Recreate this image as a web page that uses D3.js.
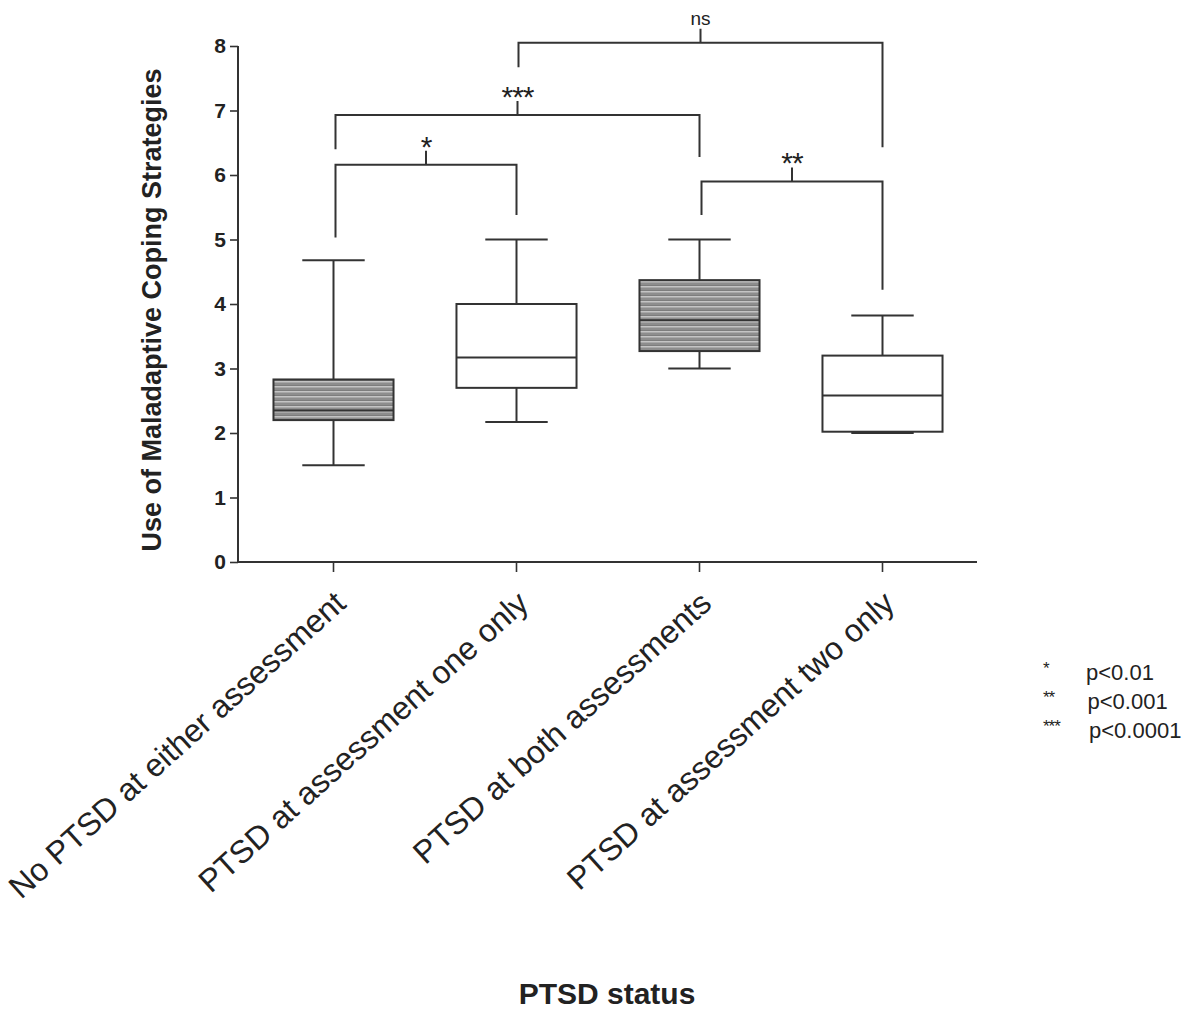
<!DOCTYPE html>
<html>
<head>
<meta charset="utf-8">
<script src="https://cdn.jsdelivr.net/npm/d3@7"></script>
<style>
  html, body { margin: 0; padding: 0; background: #fff; }
  svg { display: block; }
  text { font-family: "Liberation Sans", Arial, sans-serif; fill: #222; }
</style>
</head>
<body>
<svg id="chart" width="1200" height="1011"></svg>
<script>
// PTSD status groups
const categories = [
  "No PTSD at either assessment",
  "PTSD at assessment one only",
  "PTSD at both assessments",
  "PTSD at assessment two only"
];
// Box-and-whisker summaries (min / Q1 / median / Q3 / max)
const whiskerLow  = [1.50, 2.17, 3.00, 2.00];
const q1          = [2.20, 2.70, 3.27, 2.02];
const median      = [2.35, 3.17, 3.75, 2.58];
const q3          = [2.83, 4.00, 4.37, 3.20];
const whiskerHigh = [4.68, 5.00, 5.00, 3.82];
const shaded      = [true, false, true, false];

const yTicks = [0, 1, 2, 3, 4, 5, 6, 7, 8];

// Pairwise comparison brackets: groups, bracket level, leg ends, label
const bracketFrom  = [0, 0, 2, 1];
const bracketTo    = [1, 2, 3, 3];
const bracketLevel = [6.16, 6.93, 5.90, 8.05];
const legFromEnd   = [5.03, 6.40, 5.38, 7.67];
const legToEnd     = [5.38, 6.28, 4.22, 6.43];
const bracketLabel = ["*", "***", "**", "ns"];

// Significance key
const keyStars  = ["*", "**", "***"];
const keyLevels = ["p<0.01", "p<0.001", "p<0.0001"];

const svg = d3.select("#chart");

const x = d3.scaleBand()
  .domain(categories)
  .range([242, 974])
  .paddingInner(0.344)
  .paddingOuter(0.172);

const y = d3.scaleLinear().domain([0, 8]).range([562, 46]);

const ink = "#333";

// Horizontal stripe fill for the shaded boxes
const defs = svg.append("defs");
const pat = defs.append("pattern")
  .attr("id", "stripes")
  .attr("patternUnits", "userSpaceOnUse")
  .attr("width", 8).attr("height", 5);
pat.append("rect").attr("width", 8).attr("height", 5).attr("fill", "#7d7d7d");
pat.append("rect").attr("y", 1).attr("width", 8).attr("height", 1.6).attr("fill", "#c4c4c4");
pat.append("rect").attr("y", 3.6).attr("width", 8).attr("height", 0.8).attr("fill", "#a6a6a6");

// Y axis
const yAxis = svg.append("g")
  .attr("transform", `translate(238,0)`)
  .call(d3.axisLeft(y).tickValues(yTicks).tickSize(8).tickPadding(4).tickFormat(d3.format("d")));
yAxis.select(".domain").attr("stroke", ink).attr("stroke-width", 2).attr("d", `M0,${y(8)}V${y(0)}`);
yAxis.selectAll(".tick line").attr("stroke", ink).attr("stroke-width", 1.6);
yAxis.selectAll(".tick text")
  .attr("font-size", 21).attr("font-weight", "bold")
  .attr("font-family", "'Liberation Sans', Arial, sans-serif").attr("fill", "#222");

// X axis
const xAxis = svg.append("g")
  .attr("transform", `translate(0,${y(0)})`)
  .call(d3.axisBottom(x).tickSize(10).tickFormat(""));
xAxis.select(".domain").attr("stroke", ink).attr("stroke-width", 2).attr("d", `M238,0H977`);
xAxis.selectAll(".tick line").attr("stroke", ink).attr("stroke-width", 1.6);

// Rotated category labels
svg.append("g").selectAll("text")
  .data(categories)
  .join("text")
  .attr("transform", d => `translate(${x(d) + x.bandwidth() / 2 + 14},${y(0) + 44}) rotate(-42)`)
  .attr("text-anchor", "end")
  .attr("font-size", 32)
  .text(d => d);

// Axis titles
svg.append("text")
  .attr("transform", `translate(161,${(y(0) + y(8)) / 2 + 6}) rotate(-90)`)
  .attr("text-anchor", "middle")
  .attr("font-size", 27).attr("font-weight", "bold")
  .text("Use of Maladaptive Coping Strategies");

svg.append("text")
  .attr("x", 607).attr("y", 1004)
  .attr("text-anchor", "middle")
  .attr("font-size", 30).attr("font-weight", "bold")
  .text("PTSD status");

// Boxes and whiskers
const capW = x.bandwidth() * 0.52;
const boxes = svg.append("g").selectAll("g")
  .data(categories)
  .join("g");

boxes.each(function (d, i) {
  const g = d3.select(this);
  const cx = x(d) + x.bandwidth() / 2;
  // whisker stems
  g.append("line").attr("x1", cx).attr("x2", cx).attr("y1", y(whiskerHigh[i])).attr("y2", y(q3[i]))
    .attr("stroke", ink).attr("stroke-width", 2);
  g.append("line").attr("x1", cx).attr("x2", cx).attr("y1", y(q1[i])).attr("y2", y(whiskerLow[i]))
    .attr("stroke", ink).attr("stroke-width", 2);
  // caps
  [whiskerHigh[i], whiskerLow[i]].forEach(v => {
    g.append("line").attr("x1", cx - capW / 2).attr("x2", cx + capW / 2).attr("y1", y(v)).attr("y2", y(v))
      .attr("stroke", ink).attr("stroke-width", 2);
  });
  // box
  g.append("rect")
    .attr("x", x(d)).attr("width", x.bandwidth())
    .attr("y", y(q3[i])).attr("height", y(q1[i]) - y(q3[i]))
    .attr("fill", shaded[i] ? "url(#stripes)" : "#fff")
    .attr("stroke", ink).attr("stroke-width", 2);
  // median
  g.append("line").attr("x1", x(d)).attr("x2", x(d) + x.bandwidth()).attr("y1", y(median[i])).attr("y2", y(median[i]))
    .attr("stroke", ink).attr("stroke-width", 2);
});

// Significance brackets
const center = i => x(categories[i]) + x.bandwidth() / 2;
const brackets = svg.append("g").selectAll("g")
  .data(bracketLabel)
  .join("g");

brackets.each(function (lab, k) {
  const g = d3.select(this);
  const xa = center(bracketFrom[k]) + 2, xb = center(bracketTo[k]);
  const yl = y(bracketLevel[k]);
  const xm = (xa + xb) / 2;
  g.append("path")
    .attr("d", `M${xa},${y(legFromEnd[k])}V${yl}H${xb}V${y(legToEnd[k])}M${xm},${yl}V${yl - 14}`)
    .attr("fill", "none").attr("stroke", ink).attr("stroke-width", 2);
  const isNs = lab === "ns";
  g.append("text")
    .attr("x", xm).attr("y", isNs ? yl - 18 : yl - 8)
    .attr("text-anchor", "middle")
    .attr("font-size", isNs ? 19 : 30)
    .attr("letter-spacing", isNs ? 0 : -1)
    .text(lab);
});

// Significance key
const key = svg.append("g");
keyStars.forEach((s, i) => {
  key.append("text").attr("x", 1043).attr("y", 674 + i * 29).attr("font-size", 17).attr("letter-spacing", -1).text(s);
  key.append("text").attr("x", 1086 + i * 1.5).attr("y", 680 + i * 29).attr("font-size", 22).text(keyLevels[i]);
});
</script>
</body>
</html>
